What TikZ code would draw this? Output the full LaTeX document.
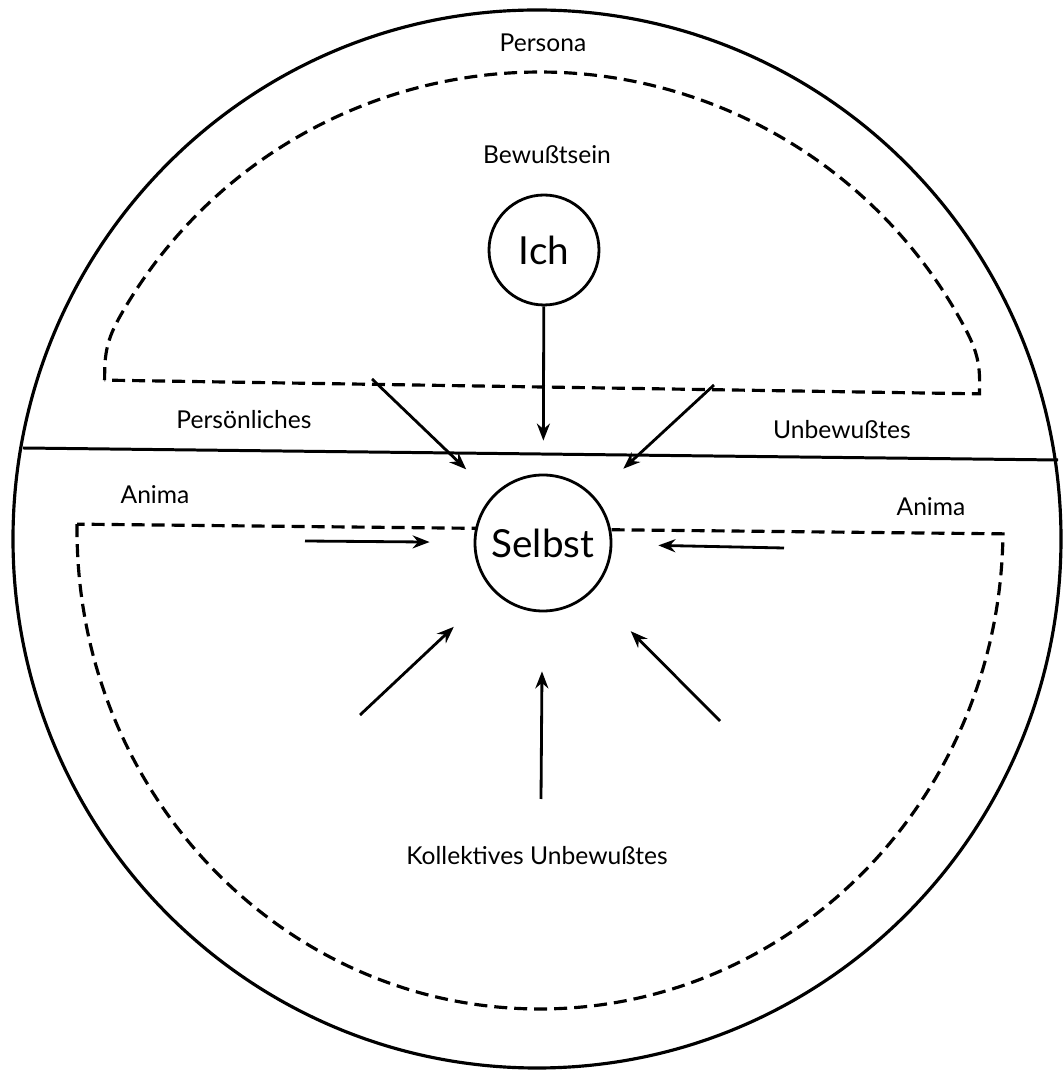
\documentclass[tikz,border=0pt]{standalone}
\usepackage{fontspec}
\setmainfont{Lato}
\usepackage{tikz}
\usetikzlibrary{arrows.meta}

\begin{document}
\begin{tikzpicture}[x=2cm,y=2cm,
        pfeil/.style={line width=1.6pt,-{Stealth[length=0.34cm,width=0.26cm]}},
        strich/.style={line width=1.8pt,dash pattern=on 0.26cm off 0.14cm},
        kreis/.style={circle,draw,line width=1.6pt,fill=white,inner sep=0pt,font=\fontsize{22}{24}\selectfont},
        beschr/.style={font=\fontsize{14}{16}\selectfont}]
    \useasboundingbox (0,0) rectangle (10.64,10.72);
    \draw[line width=1.8pt] (5.37,5.33) ellipse [x radius=5.24,y radius=5.29]; %Persona
    \coordinate (links) at (0.23,6.24);
    \coordinate (rechts) at (10.58,6.12);
    \draw[line width=1.7pt] (links) -- (rechts);
    \begin{scope}[shift={(5.42,6.85)},rotate=-0.9] %Bewusstsein
        \draw[strich] (-4.375,0) -- (-4.375,0.1) to[out=90,in=240.6] (-4.2,0.695)
            arc[start angle=150.6,end angle=29.4,radius=4.82]
            to[out=-60.6,in=90] (4.375,0.1) -- (4.375,0) -- cycle;
    \end{scope}
    \begin{scope}[shift={(5.40,5.43)},rotate=-0.6] %kollektives Unbewusstes
        \draw[strich] (-4.63,0) arc[start angle=180,end angle=360,x radius=4.63,y radius=4.80] -- cycle;
    \end{scope}

    \node[kreis,minimum size=2.2cm] (ich) at (5.44,8.22) {Ich};
    \node[kreis,minimum size=2.72cm] (selbst) at (5.43,5.29) {Selbst};

    \node[beschr] (persona) at (5.43,10.29) {Persona};
    \node[beschr] (bewusst) at (5.47,9.17) {Bewußtsein};
    \node[beschr] (persoenl) at (2.44,6.52) {Persönliches};
    \node[beschr] (unbew) at (8.42,6.42) {Unbewußtes};
    \node[beschr] (animal) at (1.55,5.77) {Anima};
    \node[beschr] (animar) at (9.31,5.65) {Anima};
    \node[beschr] (kollektiv) at (5.37,2.16) {Kollektives Unbewußtes};

    %Pfeile auf das Selbst
    \coordinate (ol) at (3.72,6.93);
    \coordinate (or) at (7.14,6.87);
    \coordinate (ml) at (3.05,5.31);
    \coordinate (mr) at (7.84,5.24);
    \coordinate (ul) at (3.60,3.57);
    \coordinate (um) at (5.41,2.73);
    \coordinate (ur) at (7.20,3.51);
    \draw[pfeil,shorten >=0.66cm] (ich) -- (selbst);
    \foreach \a/\s in {ol/0.74cm,or/0.80cm,ml/0.88cm,mr/0.92cm,ul/1.06cm,um/1.18cm,ur/1.10cm}{
        \draw[pfeil,shorten >=\s] (\a) -- (selbst);
    }
\end{tikzpicture}
\end{document}
